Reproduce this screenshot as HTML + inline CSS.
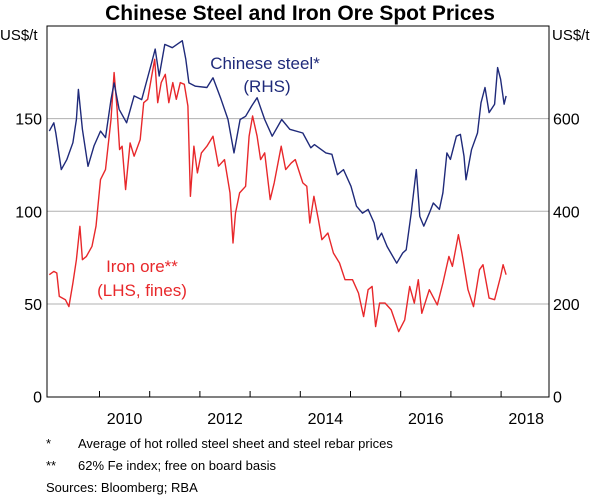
<!DOCTYPE html>
<html><head><meta charset="utf-8"><style>
body{margin:0;background:#fff;}
svg{display:block;font-family:"Liberation Sans",Arial,sans-serif;}
</style></head><body>
<svg id="chart" width="600" height="497">
<text x="300" y="20" text-anchor="middle" font-size="21" font-weight="bold">Chinese Steel and Iron Ore Spot Prices</text>
<text x="0" y="40" font-size="15">US$/t</text>
<text x="552" y="40" font-size="15">US$/t</text>
<g id="grid"></g><g id="ticks"></g><g id="series"></g>
<rect x="47" y="26" width="502" height="371" fill="none" stroke="#000" stroke-width="1"/>
<text x="265" y="69" text-anchor="middle" font-size="17" fill="#1f2a7a">Chinese steel*</text>
<text x="267" y="92" text-anchor="middle" font-size="17" fill="#1f2a7a">(RHS)</text>
<text x="142" y="272" text-anchor="middle" font-size="17" fill="#e8282b">Iron ore**</text>
<text x="142" y="296" text-anchor="middle" font-size="17" fill="#e8282b">(LHS, fines)</text>
<text x="46" y="448" font-size="13">*</text>
<text x="78" y="448" font-size="13">Average of hot rolled steel sheet and steel rebar prices</text>
<text x="46" y="470" font-size="13">**</text>
<text x="78" y="470" font-size="13">62% Fe index; free on board basis</text>
<text x="46" y="492" font-size="13">Sources: Bloomberg; RBA</text>
</svg>
<script>
const steelYears=[2009.00,2009.09,2009.13,2009.24,2009.35,2009.47,2009.54,2009.58,2009.66,2009.77,2009.89,2010.02,2010.12,2010.23,2010.29,2010.39,2010.54,2010.69,2010.84,2011.04,2011.11,2011.19,2011.30,2011.45,2011.65,2011.72,2011.78,2011.91,2012.14,2012.26,2012.41,2012.56,2012.68,2012.80,2012.91,2013.03,2013.14,2013.29,2013.44,2013.63,2013.79,2014.05,2014.21,2014.28,2014.51,2014.63,2014.74,2014.86,2015.01,2015.12,2015.24,2015.35,2015.47,2015.54,2015.62,2015.73,2015.92,2016.04,2016.11,2016.21,2016.31,2016.38,2016.46,2016.57,2016.65,2016.77,2016.84,2016.92,2016.99,2017.11,2017.19,2017.26,2017.30,2017.41,2017.53,2017.60,2017.68,2017.76,2017.87,2017.93,2017.99,2018.06,2018.10];
const steelValues=[573,591,569,490,512,548,598,663,577,497,541,573,559,641,677,620,591,649,641,721,750,692,760,753,768,728,677,670,667,688,645,598,526,598,605,627,645,598,562,598,577,569,537,544,526,523,479,490,454,411,396,404,375,339,353,324,288,310,317,396,490,389,368,396,418,404,440,526,512,562,566,519,468,533,569,634,667,613,631,710,685,631,649];
const oreYears=[2009.00,2009.09,2009.15,2009.20,2009.32,2009.39,2009.47,2009.54,2009.61,2009.66,2009.74,2009.85,2009.93,2010.02,2010.12,2010.23,2010.29,2010.35,2010.40,2010.45,2010.52,2010.61,2010.69,2010.81,2010.88,2010.96,2011.04,2011.10,2011.16,2011.23,2011.31,2011.38,2011.46,2011.53,2011.61,2011.69,2011.76,2011.81,2011.88,2011.95,2012.03,2012.14,2012.26,2012.37,2012.49,2012.60,2012.66,2012.71,2012.79,2012.91,2012.98,2013.05,2013.14,2013.21,2013.29,2013.40,2013.48,2013.62,2013.71,2013.82,2013.90,2014.05,2014.13,2014.19,2014.27,2014.36,2014.43,2014.55,2014.66,2014.78,2014.89,2015.04,2015.16,2015.26,2015.35,2015.43,2015.50,2015.58,2015.69,2015.81,2015.96,2016.08,2016.18,2016.27,2016.35,2016.42,2016.57,2016.73,2016.84,2016.96,2017.03,2017.15,2017.22,2017.34,2017.45,2017.57,2017.64,2017.76,2017.87,2017.99,2018.04,2018.10];
const oreValues=[65.8,67.6,66.7,54.1,52.3,48.6,61.3,73.9,91.9,73.9,75.7,81.1,91.9,117.1,122.5,149.5,174.8,155,133.3,135.1,111.7,136.9,129.7,138.7,158.6,160.4,173,182,158.6,169.4,173.9,158.6,169.4,160.4,169.4,168.5,156.8,108.1,135.1,120.7,131.5,135.1,140.5,124.3,127.9,109.9,82.9,99.1,109.9,113.5,140.5,151.4,140.5,127.9,131.5,106.3,115.3,135.1,122.5,126.1,127.9,115.3,113.5,93.7,108.1,95.5,84.7,88.3,77.5,72.1,63.1,63.1,55.9,43.2,57.7,59.5,37.8,50.5,50.5,46.8,35.1,41.4,59.5,50.5,63.1,45,57.7,49.5,61.3,75.7,70.3,87.4,77.5,57.7,48.6,68.5,71.2,53.2,52.3,64.9,71.2,65.8];
const leftTicks=[0,50,100,150];
const rightTicks=[0,200,400,600];
const yearLabels=[2010,2012,2014,2016,2018];
const tickYears=[2010,2011,2012,2013,2014,2015,2016,2017,2018];

const NS="http://www.w3.org/2000/svg";
const x=t=>49.3+(t-2009)*50.2;
const yL=v=>396.7-v*1.854;
const yR=v=>396.7-v*0.4635;
function mk(tag,attrs,parent,text){const e=document.createElementNS(NS,tag);for(const k in attrs)e.setAttribute(k,attrs[k]);if(text!==undefined)e.textContent=text;parent.appendChild(e);return e;}
const svg=document.getElementById('chart');
const grid=document.getElementById('grid'),ticks=document.getElementById('ticks'),series=document.getElementById('series');
leftTicks.forEach(v=>{
  if(v>0){const l=mk('line',{x1:47,x2:549,y1:yL(v),y2:yL(v),stroke:'#b0b0b0','stroke-width':1},grid);
  
  }
  const t=mk('text',{x:42,y:yL(v)+6,'text-anchor':'end','font-size':16},svg,String(v));
  
  
});
rightTicks.forEach(v=>{
  const t=mk('text',{x:553,y:yR(v)+6,'font-size':16},svg,String(v));
  
  
});
tickYears.forEach(yr=>{
  const l=mk('line',{x1:x(yr),x2:x(yr),y1:397,y2:391,stroke:'#000','stroke-width':1},ticks);
  
  
});
yearLabels.forEach(yr=>{
  const t=mk('text',{x:x(yr+0.5),y:424,'text-anchor':'middle','font-size':16},svg,String(yr));
  
  
});
function path(xs,vs,yf){return xs.map((t,i)=>(i?'L':'M')+x(t).toFixed(1)+','+yf(vs[i]).toFixed(1)).join('');}
const ore=mk('path',{d:path(oreYears,oreValues,yL),fill:'none',stroke:'#e8282b','stroke-width':1.4,'stroke-linejoin':'round'},series);


const steel=mk('path',{d:path(steelYears,steelValues,yR),fill:'none',stroke:'#1f2a7a','stroke-width':1.4,'stroke-linejoin':'round'},series);


</script>
</body></html>
